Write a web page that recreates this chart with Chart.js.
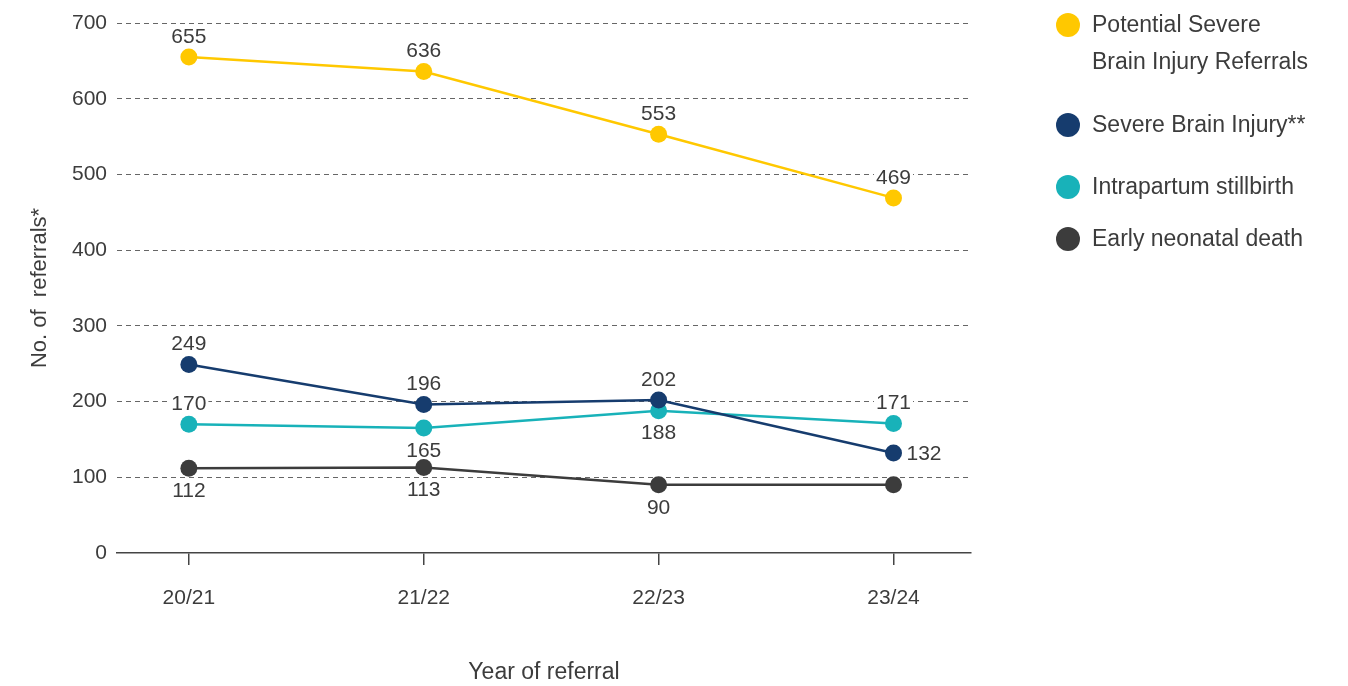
<!DOCTYPE html>
<html>
<head>
<meta charset="utf-8">
<script src="https://cdn.jsdelivr.net/npm/chart.js@4/dist/chart.umd.min.js"></script>
<style>
  html, body { margin: 0; padding: 0; background: #fff; }
  #wrap { position: relative; width: 1348px; height: 686px; }
  #legend { position: absolute; left: 1056px; top: 0; font-family: "Liberation Sans", Arial, sans-serif; font-size: 23px; color: #3c3c3c; }
  .item { position: absolute; left: 0; white-space: nowrap; }
  .dot { position: absolute; left: 0; width: 24px; height: 24px; border-radius: 50%; }
  .txt { position: absolute; left: 36px; line-height: 37px; }
</style>
</head>
<body>
<div id="wrap">
  <canvas id="chart" width="1348" height="686"></canvas>
  <div id="legend"></div>
</div>
<script>
const years = ['20/21', '21/22', '22/23', '23/24'];
const seriesNames = ['Potential Severe\nBrain Injury Referrals', 'Severe Brain Injury**', 'Intrapartum stillbirth', 'Early neonatal death'];
const potentialSevere = [655, 636, 553, 469];
const severeBrainInjury = [249, 196, 202, 132];
const intrapartumStillbirth = [170, 165, 188, 171];
const earlyNeonatalDeath = [112, 113, 90, 90];
const yTicks = [0, 100, 200, 300, 400, 500, 600, 700];

const colours = ['#ffc800', '#163c6e', '#18b2b9', '#3c3c3c'];
// where each value label sits relative to its point (null = no label)
const labelPlaces = [
  ['above', 'above', 'above', 'above'],
  ['above', 'above', 'above', 'right'],
  ['above', 'below', 'below', 'above'],
  ['below', 'below', 'below', null]
];

const textColour = '#3c3c3c';
const fontFamily = '"Liberation Sans", Arial, sans-serif';

const allSeries = [potentialSevere, severeBrainInjury, intrapartumStillbirth, earlyNeonatalDeath];

const datasets = allSeries.map((vals, i) => ({
  label: seriesNames[i],
  data: vals.map((v, j) => ({ x: j, y: v })),
  borderColor: colours[i],
  backgroundColor: colours[i],
  pointBackgroundColor: colours[i],
  pointBorderWidth: 0,
  pointRadius: 8.5,
  borderWidth: 2.5,
  tension: 0
}));

const valueLabels = {
  id: 'valueLabels',
  afterDatasetsDraw(chart) {
    const ctx = chart.ctx;
    ctx.save();
    ctx.font = '21px ' + fontFamily;
    ctx.textBaseline = 'middle';
    chart.data.datasets.forEach((ds, i) => {
      const meta = chart.getDatasetMeta(i);
      meta.data.forEach((pt, j) => {
        const place = labelPlaces[i][j];
        if (!place) return;
        const txt = String(ds.data[j].y);
        const w = ctx.measureText(txt).width;
        let x = pt.x, y = pt.y;
        if (place === 'above') y -= 21;
        else if (place === 'below') y += 22;
        else x += 13 + w / 2;
        ctx.fillStyle = '#fff';
        ctx.fillRect(x - w / 2 - 2, y - 8, w + 4, 16);
        ctx.fillStyle = textColour;
        ctx.textAlign = 'center';
        ctx.fillText(txt, x, y + 1);
      });
    });
    ctx.restore();
  }
};

new Chart(document.getElementById('chart'), {
  type: 'line',
  data: { datasets: datasets },
  options: {
    responsive: false,
    animation: false,
    layout: { padding: { left: 0, right: 377, top: 23, bottom: 0 } },
    plugins: { legend: { display: false }, tooltip: { enabled: false } },
    scales: {
      x: {
        type: 'linear',
        min: -0.306,
        max: 3.33,
        afterBuildTicks: s => { s.ticks = years.map((_, i) => ({ value: i })); },
        afterFit: s => { s.height = 133; },
        ticks: {
          callback: v => years[v],
          color: textColour,
          font: { family: fontFamily, size: 21 },
          padding: 21,
          maxRotation: 0
        },
        grid: { drawOnChartArea: false, drawTicks: true, tickLength: 12, color: '#444', lineWidth: 1.5 },
        border: { display: true, color: '#444', width: 1.5 },
        title: {
          display: true,
          text: 'Year of referral',
          color: textColour,
          font: { family: fontFamily, size: 23 },
          padding: { top: 0, bottom: 0 }
        }
      },
      y: {
        min: 0,
        max: 700,
        afterBuildTicks: s => { s.ticks = yTicks.map(v => ({ value: v })); },
        afterFit: s => { s.width = 117; },
        ticks: {
          color: textColour,
          font: { family: fontFamily, size: 21 },
          padding: 10
        },
        grid: {
          drawTicks: false,
          color: c => c.tick.value === 0 ? 'rgba(0,0,0,0)' : '#666',
          lineWidth: 1
        },
        border: { display: false, dash: [5, 4] },
        title: {
          display: true,
          text: 'No. of  referrals*',
          color: textColour,
          font: { family: fontFamily, size: 22 },
          padding: { top: 27, bottom: 0 }
        }
      }
    }
  },
  plugins: [valueLabels]
});

// html legend
const legendTops = [6, 106, 168, 220];
const legend = document.getElementById('legend');
seriesNames.forEach((name, i) => {
  const item = document.createElement('div');
  item.className = 'item';
  item.style.top = legendTops[i] + 'px';
  const dot = document.createElement('div');
  dot.className = 'dot';
  dot.style.background = colours[i];
  dot.style.top = '7px';
  const txt = document.createElement('div');
  txt.className = 'txt';
  txt.innerHTML = name.split('\n').join('<br>');
  item.appendChild(dot);
  item.appendChild(txt);
  legend.appendChild(item);
});
</script>
</body>
</html>
